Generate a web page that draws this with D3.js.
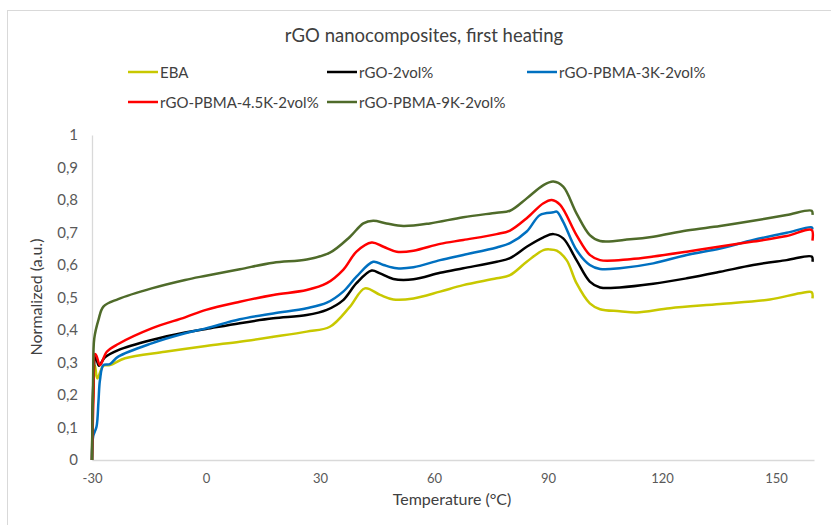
<!DOCTYPE html>
<html>
<head>
<meta charset="utf-8">
<script src="https://cdn.jsdelivr.net/npm/d3@7"></script>
<style>
  html, body { margin: 0; padding: 0; background: #fff; }
  svg { display: block; font-family: Lato, "Open Sans", sans-serif; }
</style>
</head>
<body>
<svg id="chart" width="831" height="525"></svg>
<script>
// DSC first-heating curves, normalized, for EBA and its rGO nanocomposites
const ebaT = [-30, -29.7, -29.2, -28.6, -27, -25.3, -21.3, -10.8, 0, 8.9, 17.7, 26.5, 32.6, 37.9, 41.8, 45.8, 49.3, 54.6, 61.6, 67.7, 76.5, 80, 84.4, 88.8, 90.5, 92.3, 94.9, 97.5, 101, 103.7, 108.9, 113.3, 122.1, 135.3, 148.4, 156.3, 159.4, 159.6];
const ebaV = [0, 0.2, 0.29, 0.251, 0.29, 0.292, 0.313, 0.333, 0.351, 0.364, 0.379, 0.395, 0.41, 0.472, 0.528, 0.508, 0.494, 0.497, 0.518, 0.538, 0.559, 0.569, 0.61, 0.646, 0.648, 0.644, 0.615, 0.544, 0.482, 0.464, 0.458, 0.454, 0.467, 0.48, 0.494, 0.513, 0.516, 0.497];

const rgoT = [-30, -29.6, -29.1, -28.2, -26.6, -23.1, -14.3, -5.5, 0, 8.9, 17.7, 26.5, 31.8, 36.1, 39.6, 43.6, 45.8, 49.3, 54.6, 61.6, 67.7, 76.5, 80, 84.4, 88.8, 91.4, 94, 97.5, 101, 103.7, 108.9, 117.7, 126.5, 135.3, 144, 152.8, 159.4, 159.6];
const rgoV = [0, 0.25, 0.323, 0.29, 0.316, 0.338, 0.369, 0.392, 0.403, 0.421, 0.436, 0.446, 0.462, 0.492, 0.544, 0.583, 0.574, 0.557, 0.556, 0.576, 0.59, 0.61, 0.621, 0.656, 0.685, 0.695, 0.682, 0.615, 0.549, 0.531, 0.531, 0.542, 0.559, 0.579, 0.6, 0.615, 0.626, 0.61];

const pbma3T = [-30, -29.7, -28.8, -28.3, -27.9, -27, -25.3, -23.1, -14.3, -5.5, 0, 8.9, 17.7, 26.5, 31.8, 36.1, 39.6, 44, 46.7, 50.2, 54.6, 61.6, 67.7, 76.5, 80, 84.4, 87.9, 91.4, 92.3, 94, 97.5, 101, 103.7, 108.9, 117.7, 126.5, 135.3, 144, 152.8, 159.4, 159.6];
const pbma3V = [0, 0.072, 0.103, 0.18, 0.246, 0.292, 0.295, 0.318, 0.359, 0.39, 0.405, 0.433, 0.451, 0.467, 0.484, 0.518, 0.564, 0.61, 0.6, 0.59, 0.593, 0.615, 0.631, 0.654, 0.667, 0.703, 0.754, 0.762, 0.764, 0.733, 0.646, 0.6, 0.588, 0.59, 0.605, 0.631, 0.651, 0.677, 0.699, 0.716, 0.71];

const pbma45T = [-30, -29.6, -29.2, -28.8, -27.9, -26.1, -23.1, -14.3, -5.5, 0, 8.9, 17.7, 26.5, 31.8, 36.1, 39.6, 43.6, 46.7, 50.2, 54.6, 61.6, 67.7, 76.5, 80, 84.4, 88.8, 91, 93.2, 97.5, 101, 103.7, 111.6, 117.7, 126.5, 135.3, 144, 152.8, 159.4, 159.6];
const pbma45V = [0, 0.2, 0.326, 0.32, 0.292, 0.333, 0.357, 0.405, 0.439, 0.462, 0.487, 0.508, 0.523, 0.544, 0.585, 0.641, 0.669, 0.656, 0.641, 0.644, 0.665, 0.677, 0.695, 0.706, 0.744, 0.79, 0.8, 0.785, 0.692, 0.631, 0.615, 0.618, 0.626, 0.641, 0.657, 0.672, 0.689, 0.708, 0.675];

const pbma9T = [-30, -29.7, -29.4, -28.3, -27, -23.1, -14.3, -5.5, 0, 8.9, 17.7, 26.5, 32.6, 37.9, 41.4, 44, 47.5, 51.9, 58.9, 67.7, 76.5, 80, 84.4, 88.8, 91.4, 94, 97.5, 101, 103.7, 111.6, 117.7, 126.5, 135.3, 144, 152.8, 159.4, 159.6];
const pbma9V = [0, 0.25, 0.374, 0.431, 0.472, 0.495, 0.528, 0.554, 0.567, 0.587, 0.607, 0.617, 0.638, 0.687, 0.728, 0.736, 0.728, 0.72, 0.728, 0.747, 0.761, 0.767, 0.805, 0.846, 0.857, 0.841, 0.759, 0.692, 0.674, 0.679, 0.687, 0.706, 0.72, 0.736, 0.754, 0.767, 0.754];

const seriesNames = ["EBA", "rGO-2vol%", "rGO-PBMA-3K-2vol%", "rGO-PBMA-4.5K-2vol%", "rGO-PBMA-9K-2vol%"];
const seriesColors = ["#c8c800", "#000000", "#0070c0", "#ff0000", "#4f6b2a"];
const xTicks = [-30, 0, 30, 60, 90, 120, 150];
const yTicks = [0, 0.1, 0.2, 0.3, 0.4, 0.5, 0.6, 0.7, 0.8, 0.9, 1];

const seriesT = [ebaT, rgoT, pbma3T, pbma45T, pbma9T];
const seriesV = [ebaV, rgoV, pbma3V, pbma45V, pbma9V];

const svg = d3.select("#chart");
const W = 831, H = 525;
const plot = { left: 92, right: 814, top: 135, bottom: 460 };

// chart area frame
svg.append("rect")
  .attr("x", 7.5).attr("y", 10.5)
  .attr("width", 840).attr("height", 540)
  .attr("fill", "#fff").attr("stroke", "#d9d9d9").attr("stroke-width", 1);

const x = d3.scaleLinear().domain([-30, 160]).range([plot.left, plot.right]);
const y = d3.scaleLinear().domain([0, 1]).range([plot.bottom, plot.top]);

// axes
const xAxis = d3.axisBottom(x).tickValues(xTicks).tickSize(0).tickPadding(14)
  .tickFormat(d => String(d));
const gx = svg.append("g").attr("transform", `translate(0,${plot.bottom})`).call(xAxis);
gx.select(".domain").attr("stroke", "#d9d9d9").attr("stroke-width", 1.3);
gx.selectAll("text").attr("fill", "#595959").style("font-size", "13px")
  .style("font-family", "Lato, 'Open Sans', sans-serif");

const yAxis = d3.axisLeft(y).tickValues(yTicks).tickSize(0).tickPadding(14)
  .tickFormat(d => d3.format(".1~f")(d).replace(".", ","));
const gy = svg.append("g").attr("transform", `translate(${plot.left},0)`).call(yAxis);
gy.select(".domain").attr("stroke", "#d9d9d9").attr("stroke-width", 1.3);
gy.selectAll("text").attr("fill", "#595959").style("font-size", "15px")
  .style("font-family", "Lato, 'Open Sans', sans-serif");

// curves
const line = d3.line()
  .x(d => x(d[0])).y(d => y(d[1]))
  .curve(d3.curveCatmullRom.alpha(0.5));

seriesNames.forEach((name, i) => {
  const pts = seriesT[i].map((t, k) => [t, seriesV[i][k]]);
  svg.append("path")
    .datum(pts)
    .attr("fill", "none")
    .attr("stroke", seriesColors[i])
    .attr("stroke-width", 2.5)
    .attr("stroke-linejoin", "round")
    .attr("d", line);
});

// title
svg.append("text")
  .attr("x", 424).attr("y", 42)
  .attr("text-anchor", "middle")
  .attr("fill", "#404040")
  .style("font-size", "18.5px")
  .text("rGO nanocomposites, first heating");

// legend
const legendPos = [[128, 72], [327, 72], [527, 72], [128, 102], [327, 102]];
seriesNames.forEach((name, i) => {
  const [lx, ly] = legendPos[i];
  svg.append("line")
    .attr("x1", lx).attr("x2", lx + 30)
    .attr("y1", ly).attr("y2", ly)
    .attr("stroke", seriesColors[i]).attr("stroke-width", 2.5);
  svg.append("text")
    .attr("x", lx + 32).attr("y", ly + 5.5)
    .attr("fill", "#404040")
    .style("font-size", "15px")
    .text(name);
});

// axis titles
svg.append("text")
  .attr("x", 452).attr("y", 505)
  .attr("text-anchor", "middle")
  .attr("fill", "#404040")
  .style("font-size", "16px")
  .text("Temperature (°C)");

svg.append("text")
  .attr("transform", "translate(42,297) rotate(-90)")
  .attr("text-anchor", "middle")
  .attr("fill", "#404040")
  .style("font-size", "16px")
  .text("Normalized (a.u.)");
</script>
</body>
</html>
